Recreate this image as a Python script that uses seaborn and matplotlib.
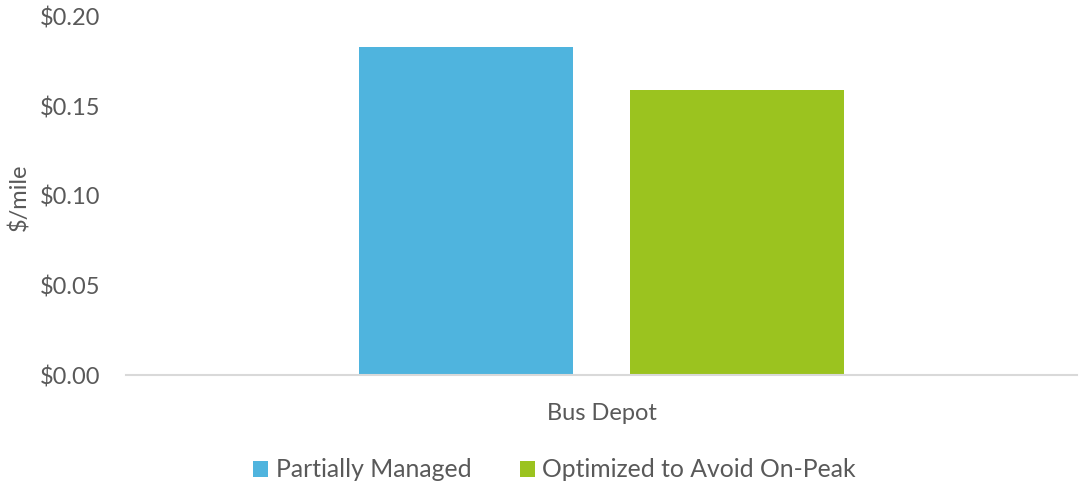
import matplotlib
matplotlib.use("Agg")
import matplotlib.pyplot as plt
from matplotlib.patches import Patch
from matplotlib.ticker import FixedLocator, FixedFormatter
import pandas as pd
import seaborn as sns

# Cost per mile at the bus depot for two charging strategies
locations = ["Bus Depot"]
strategies = ["Partially Managed", "Optimized to Avoid On-Peak"]
cost_partially_managed = [0.183]
cost_optimized = [0.159]
y_ticks = [0.00, 0.05, 0.10, 0.15, 0.20]
y_tick_labels = ["$0.00", "$0.05", "$0.10", "$0.15", "$0.20"]
y_label = "$/mile"

colors = ["#4FB4DE", "#9BC31F"]
text_color = "#595959"

df = pd.DataFrame({
    "location": locations * 2,
    "strategy": [strategies[0]] * len(locations) + [strategies[1]] * len(locations),
    "cost": cost_partially_managed + cost_optimized,
})

sns.set_theme(style="white")
plt.rcParams["font.family"] = ["Lato", "DejaVu Sans"]

fig = plt.figure(figsize=(10.79, 4.83), dpi=100)
ax = fig.add_axes([0.1168, 0.2236, 0.8814, 0.7422])

sns.barplot(data=df, x="location", y="cost", hue="strategy",
            hue_order=strategies, palette=colors, width=0.57, gap=0.21,
            saturation=1, edgecolor="none", linewidth=0, ax=ax, legend=False)

ax.set_xlim(-0.5, 0.5)
ax.set_ylim(0, 0.2)
ax.yaxis.set_major_locator(FixedLocator(y_ticks))
ax.yaxis.set_major_formatter(FixedFormatter(y_tick_labels))

for side in ["left", "right", "top"]:
    ax.spines[side].set_visible(False)
ax.spines["bottom"].set_color("#D9D9D9")
ax.spines["bottom"].set_linewidth(1.5)
ax.grid(False)

ax.tick_params(axis="y", length=0, pad=18.5, labelsize=17, labelcolor=text_color)
ax.tick_params(axis="x", length=0, pad=20, labelsize=17, labelcolor=text_color)
ax.set_xlabel("")
ax.set_ylabel(y_label, fontsize=17, color=text_color)
ax.yaxis.set_label_coords(-0.101, 0.495)

handles = [Patch(facecolor=c, edgecolor="none") for c in colors]
fig.legend(handles, strategies, loc="center", bbox_to_anchor=(0.514, 0.027),
           ncol=2, frameon=False, fontsize=17.8, labelcolor=text_color,
           handlelength=0.62, handleheight=0.62, handletextpad=0.3,
           columnspacing=1.95, borderaxespad=0, borderpad=0)

fig.savefig("out.png", dpi=100)
